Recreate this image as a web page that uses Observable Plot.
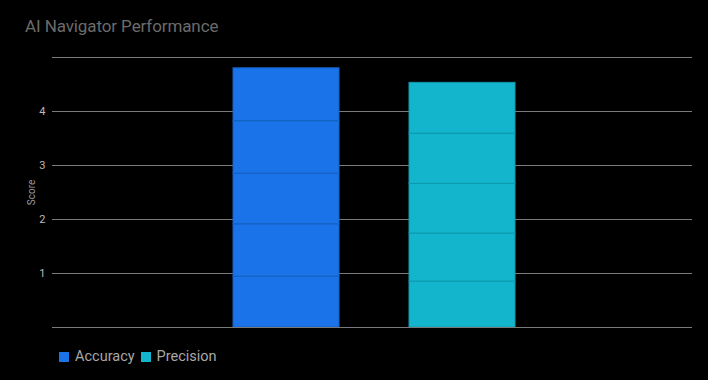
<!DOCTYPE html>
<html>
<head>
<meta charset="utf-8">
<script src="https://cdn.jsdelivr.net/npm/d3@7"></script>
<script src="https://cdn.jsdelivr.net/npm/@observablehq/plot@0.6"></script>
<style>
  html, body { margin: 0; padding: 0; background: #000; }
  body { width: 708px; height: 380px; position: relative; overflow: hidden; font-family: Roboto, "Open Sans", sans-serif; }
  #title { position: absolute; left: 25px; top: 16px; font-size: 17px; color: #6b6b6b; letter-spacing: -0.1px; }
  #chart { position: absolute; left: 0; top: 40px; }
  #legend { position: absolute; left: 59px; top: 348px; display: flex; align-items: center; font-size: 14.5px; color: #a8a8a8; }
  .sw { width: 10px; height: 10px; display: inline-block; margin-right: 6px; }
  .item { display: flex; align-items: center; margin-right: 6px; }
</style>
</head>
<body>
<div id="title">AI Navigator Performance</div>
<div id="chart"></div>
<div id="legend"></div>
<script>
const series = ["Accuracy", "Precision"];
const colors = ["#1a73e8", "#12b5cb"];
const edgeColors = ["#1563c4", "#0f9aae"];
const accuracySegments = [0.94, 0.97, 0.94, 0.97, 0.98];
const precisionSegments = [0.85, 0.89, 0.92, 0.93, 0.94];
const yTicks = [1, 2, 3, 4];
const gridValues = [0, 1, 2, 3, 4, 5];
const yLabel = "Score";

const rows = [];
accuracySegments.forEach((v, i) => rows.push({series: series[0], seg: i, value: v}));
precisionSegments.forEach((v, i) => rows.push({series: series[1], seg: i, value: v}));

const chart = Plot.plot({
  width: 708,
  height: 300,
  marginTop: 17,
  marginBottom: 13,
  marginLeft: 52,
  marginRight: 16,
  style: {background: "#000", color: "#bbb", fontFamily: "Roboto, sans-serif", fontSize: "11px"},
  x: {domain: series, paddingInner: 0.4, paddingOuter: 1.013, align: 0.506, axis: null},
  y: {domain: [0, 5], ticks: yTicks, tickFormat: "d", tickSize: 0, tickPadding: 7, label: yLabel, labelAnchor: "center", labelArrow: "none", labelOffset: 25},
  color: {domain: series, range: colors},
  marks: [
    Plot.ruleY(gridValues, {stroke: "#7a7a7a", strokeWidth: 1}),
    Plot.barY(rows, Plot.stackY({
      x: "series",
      y: "value",
      fill: "series",
      stroke: d => edgeColors[series.indexOf(d.series)],
      strokeWidth: 1,
      order: null
    })),
    Plot.ruleY([0], {stroke: "#7a7a7a"})
  ]
});
chart.querySelectorAll("[aria-label='y-axis label'] text, [aria-label='y-axis label']").forEach(e => { e.setAttribute("fill", "#9a9a9a"); e.style.fontSize = "10px"; });
document.getElementById("chart").appendChild(chart);

const legend = document.getElementById("legend");
series.forEach((s, i) => {
  const item = document.createElement("span");
  item.className = "item";
  const sw = document.createElement("span");
  sw.className = "sw";
  sw.style.background = colors[i];
  item.appendChild(sw);
  item.appendChild(document.createTextNode(s));
  legend.appendChild(item);
});
</script>
</body>
</html>
